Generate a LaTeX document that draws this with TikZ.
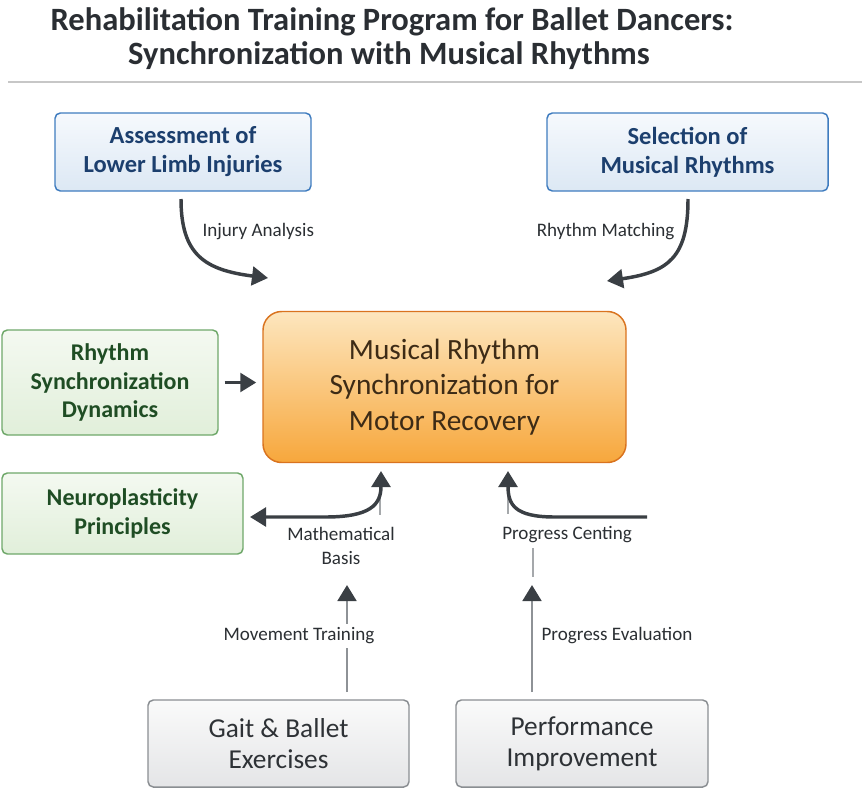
\documentclass[tikz,border=0pt]{standalone}
\usepackage{fontspec}
\setmainfont{Carlito}
\usetikzlibrary{arrows.meta}
\definecolor{titlec}{HTML}{2A2E33}
\definecolor{bluedraw}{HTML}{3F7CBF}
\definecolor{bluetext}{HTML}{1C3F6E}
\definecolor{bluetop}{HTML}{F6F9FD}
\definecolor{bluebot}{HTML}{DCE8F4}
\definecolor{greendraw}{HTML}{6FA86A}
\definecolor{greentext}{HTML}{1F4D24}
\definecolor{greentop}{HTML}{F4F9F1}
\definecolor{greenbot}{HTML}{E1EFDA}
\definecolor{orangedraw}{HTML}{D9731F}
\definecolor{orangetop}{HTML}{FDE6BE}
\definecolor{orangebot}{HTML}{F7A73C}
\definecolor{orangetext}{HTML}{3D2B16}
\definecolor{greydraw}{HTML}{8A8E92}
\definecolor{greytop}{HTML}{FAFAFA}
\definecolor{greybot}{HTML}{E4E5E7}
\definecolor{greytext}{HTML}{2E3236}
\definecolor{arrowc}{HTML}{3A3F44}
\definecolor{shaftc}{HTML}{8E9296}
\definecolor{labelc}{HTML}{2B2F33}
\tikzset{
  box/.style={rounded corners=4pt, line width=1.1pt, align=center, inner sep=0pt},
  bluebox/.style={box, draw=bluedraw, top color=bluetop, bottom color=bluebot, text=bluetext,
    font=\bfseries\fontsize{18.4}{21.75}\selectfont},
  greenbox/.style={box, draw=greendraw, top color=greentop, bottom color=greenbot, text=greentext,
    font=\bfseries\fontsize{18}{21.5}\selectfont},
  greybox/.style={box, draw=greydraw, top color=greytop, bottom color=greybot, text=greytext,
    font=\fontsize{20.5}{23.25}\selectfont},
  centralbox/.style={box, rounded corners=14pt, draw=orangedraw, top color=orangetop, bottom color=orangebot,
    text=orangetext, font=\fontsize{22}{26.6}\selectfont},
  darr/.style={draw=arrowc, line width=2.6pt, -{Triangle[length=12pt,width=14pt]}},
  dlarr/.style={draw=arrowc, line width=2.6pt, {Triangle[length=12pt,width=14pt]}-{Triangle[length=12pt,width=14pt]}},
  garr/.style={draw=shaftc, line width=2.2pt, -{Triangle[length=12pt,width=14pt,color=arrowc]}},
  thinl/.style={draw=shaftc!80, line width=1.1pt},
  elabel/.style={text=labelc, font=\fontsize{14.3}{17.5}\selectfont, inner sep=1pt, align=center},
}
\begin{document}
\begin{tikzpicture}[x=0.75pt,y=-0.75pt]
\useasboundingbox (0,0) rectangle (862,789);
% title
\node[text=titlec, font=\bfseries\fontsize{24.4}{26}\selectfont] (t1) at (392,22) {Rehabilitation Training Program for Ballet Dancers:};
\node[text=titlec, font=\bfseries\fontsize{24.4}{26}\selectfont] (t2) at (389,56) {Synchronization with Musical Rhythms};
\coordinate (rl) at (8,82);
\coordinate (rr) at (862,82);
\draw[draw=black!22, line width=1.5pt] (rl) -- (rr);

% boxes
\node[bluebox, minimum width=192pt, minimum height=58.5pt] (assess) at (183,152) {Assessment of\\Lower Limb Injuries};
\node[bluebox, minimum width=210.75pt, minimum height=58.5pt] (select) at (687.5,152) {Selection of\\Musical Rhythms};
\node[centralbox, minimum width=272.25pt, minimum height=113.25pt] (central) at (444.5,387) {Musical Rhythm\\Synchronization for\\Motor Recovery};
\node[greenbox, minimum width=162pt, minimum height=78.75pt] (rsd) at (110,382.5) {Rhythm\\Synchronization\\Dynamics};
\node[greenbox, minimum width=180.75pt, minimum height=60.75pt] (neuro) at (122.5,513.5) {Neuroplasticity\\Principles};
\node[greybox, minimum width=195.75pt, minimum height=65.25pt] (gait) at (278.5,743.5) {Gait \& Ballet\\Exercises};
\node[greybox, minimum width=189pt, minimum height=65.25pt] (perf) at (582,743.5) {Performance\\Improvement};

% top curved arrows
\coordinate (injs) at (181,199);
\coordinate (inje) at (268,278);
\draw[darr] (injs) .. controls (181,255) and (205,270) .. (inje);
\node[elabel, anchor=west] (injl) at (201,232) {Injury Analysis};

\coordinate (rhs) at (688,199);
\coordinate (rhe) at (607,281);
\draw[darr] (rhs) .. controls (688,258) and (668,272) .. (rhe);
\node[elabel, anchor=east] (rhl) at (676,232) {Rhythm Matching};

% rsd -> central
\draw[darr] ([xshift=4.5pt]rsd.east) -- ([xshift=-4.5pt]central.west |- rsd.east);

% mathematical basis
\coordinate (mbl) at (250,517);
\coordinate (mbt) at (381,471);
\coordinate (mbg1) at (380,488);
\coordinate (mbg2) at (380,515);
\draw[thinl, line width=2pt] (mbg1) -- (mbg2);
\draw[dlarr] (mbl) -- (325,517) .. controls (370,517) and (381,505) .. (mbt);
\node[elabel] (mbl2) at (341,546) {Mathematical\\Basis};

% progress centing
\coordinate (pcs) at (647,517);
\coordinate (pct) at (508,471);
\coordinate (pcg1) at (508,490);
\coordinate (pcg2) at (508,514);
\draw[thinl, line width=2pt] (pcg1) -- (pcg2);
\draw[darr] (pcs) -- (555,517) .. controls (515,517) and (508,505) .. (pct);
\node[elabel] (pcl) at (567,535) {Progress Centing};
\coordinate (pcv1) at (533,548);
\coordinate (pcv2) at (533,577);
\draw[thinl] (pcv1) -- (pcv2);

% bottom arrows
\coordinate (mts) at (347,692);
\coordinate (mte) at (347,585);
\draw[garr] (mts) -- (mte);
\node[elabel, fill=white, inner sep=3pt] (mtl) at (299,636) {Movement Training};

\coordinate (pes) at (532,692);
\coordinate (pee) at (532,585);
\draw[garr] (pes) -- (pee);
\node[elabel, anchor=west] (pel) at (540,636) {Progress Evaluation};
\end{tikzpicture}
\end{document}
